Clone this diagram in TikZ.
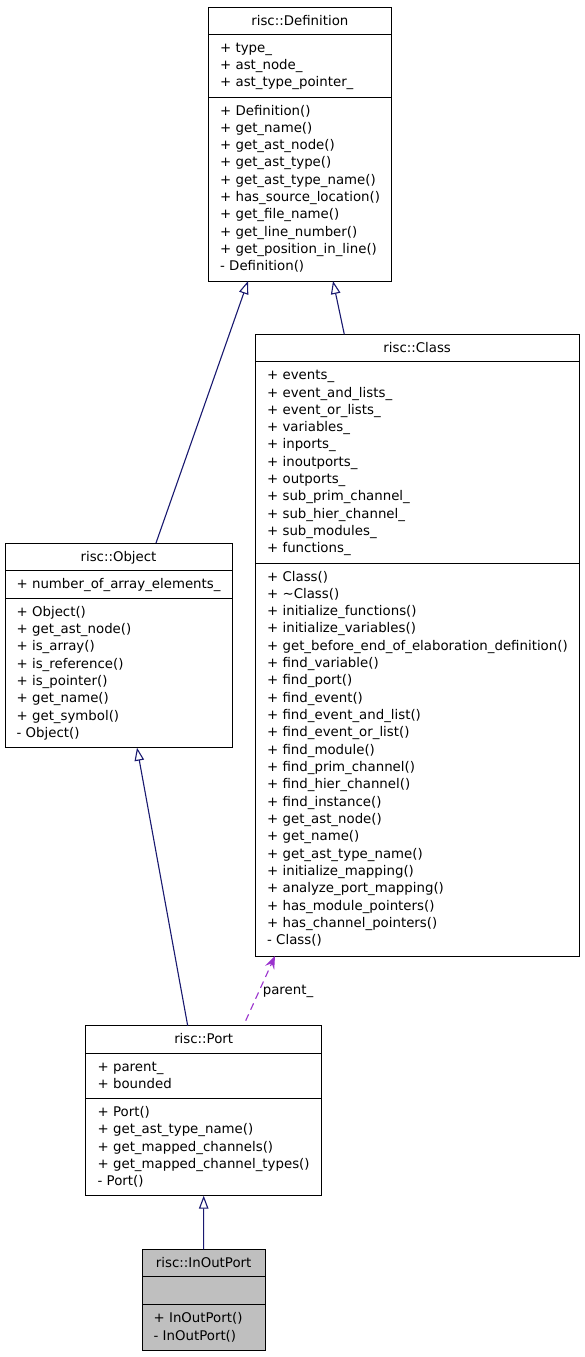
\documentclass[tikz,border=0pt]{standalone}
\usepackage{fontspec}
\setmainfont{DejaVu Sans}
\usetikzlibrary{arrows.meta}
\definecolor{inhcol}{HTML}{191970}
\definecolor{usecol}{HTML}{9A32CD}
\definecolor{iopfill}{HTML}{BFBFBF}
\begin{document}
\begin{tikzpicture}[x=1pt,y=-1pt,
  classbox/.style={draw=black,line width=1pt,fill=white,anchor=north west,inner sep=0pt,outer sep=0pt},
  sepline/.style={draw=black,line width=1pt},
  title/.style={anchor=base,inner sep=0pt,font=\fontsize{13.33pt}{17.33pt}\selectfont},
  member/.style={anchor=base west,inner sep=0pt,font=\fontsize{13.33pt}{17.33pt}\selectfont},
  inh/.style={draw=inhcol,line width=1.1pt,-{Triangle[open,length=13pt,width=9.5pt,fill=white]}},
  uses/.style={draw=usecol,line width=1.1pt,dashed,dash pattern=on 7pt off 5pt,-{Stealth[length=13pt,width=10pt,inset=5pt]}},
]
\useasboundingbox (0,0) rectangle (584,1357);
\fill[white] (0,0) rectangle (584,1357);

% ---------- risc::Definition ----------
\node[classbox,minimum width=183.7pt,minimum height=274pt] (def) at (208,7) {};
\draw[sepline] (208,34.33) -- (391.7,34.33);
\draw[sepline] (208,97) -- (391.7,97);
\node[title] (deft) at (299.85,25) {risc::Definition};
\foreach \t [count=\i] in {+ type\_, + ast\_node\_, + ast\_type\_pointer\_}
  \node[member] (defa\i) at (220,34.33+18+17.33*\i-17.33) {\t};
\foreach \t [count=\i] in {+ Definition(), + get\_name(), + get\_ast\_node(), + get\_ast\_type(), + get\_ast\_type\_name(), + has\_source\_location(), + get\_file\_name(), + get\_line\_number(), + get\_position\_in\_line(), - Definition()}
  \node[member] (defm\i) at (220,97+18+17.33*\i-17.33) {\t};

% ---------- risc::Class ----------
\node[classbox,minimum width=324.3pt,minimum height=621.67pt] (cls) at (255,334.33) {};
\draw[sepline] (255,361.67) -- (579.3,361.67);
\draw[sepline] (255,563) -- (579.3,563);
\node[title] (clst) at (417.15,352.33) {risc::Class};
\foreach \t [count=\i] in {+ events\_, + event\_and\_lists\_, + event\_or\_lists\_, + variables\_, + inports\_, + inoutports\_, + outports\_, + sub\_prim\_channel\_, + sub\_hier\_channel\_, + sub\_modules\_, + functions\_}
  \node[member] (clsa\i) at (267,361.67+18+17.33*\i-17.33) {\t};
\foreach \t [count=\i] in {+ Class(), + \char"007E Class(), + initialize\_functions(), + initialize\_variables(), + get\_before\_end\_of\_elaboration\_definition(), + find\_variable(), + find\_port(), + find\_event(), + find\_event\_and\_list(), + find\_event\_or\_list(), + find\_module(), + find\_prim\_channel(), + find\_hier\_channel(), + find\_instance(), + get\_ast\_node(), + get\_name(), + get\_ast\_type\_name(), + initialize\_mapping(), + analyze\_port\_mapping(), + has\_module\_pointers(), + has\_channel\_pointers(), - Class()}
  \node[member] (clsm\i) at (267,563+18+17.33*\i-17.33) {\t};

% ---------- risc::Object ----------
\node[classbox,minimum width=227pt,minimum height=204.67pt] (obj) at (5,543) {};
\draw[sepline] (5,570.33) -- (232,570.33);
\draw[sepline] (5,598.33) -- (232,598.33);
\node[title] (objt) at (118.5,561) {risc::Object};
\node[member] (obja1) at (16.5,588.33) {+ number\_of\_array\_elements\_};
\foreach \t [count=\i] in {+ Object(), + get\_ast\_node(), + is\_array(), + is\_reference(), + is\_pointer(), + get\_name(), + get\_symbol(), - Object()}
  \node[member] (objm\i) at (16.5,598.33+18+17.33*\i-17.33) {\t};

% ---------- risc::Port ----------
\node[classbox,minimum width=236pt,minimum height=170pt] (port) at (85.7,1025.67) {};
\draw[sepline] (85.7,1053) -- (321.7,1053);
\draw[sepline] (85.7,1098.33) -- (321.7,1098.33);
\node[title] (portt) at (203.7,1043.67) {risc::Port};
\foreach \t [count=\i] in {+ parent\_, + bounded}
  \node[member] (porta\i) at (97.5,1053+18+17.33*\i-17.33) {\t};
\foreach \t [count=\i] in {+ Port(), + get\_ast\_type\_name(), + get\_mapped\_channels(), + get\_mapped\_channel\_types(), - Port()}
  \node[member] (portm\i) at (97.5,1098.33+18+17.33*\i-17.33) {\t};

% ---------- risc::InOutPort ----------
\node[classbox,fill=iopfill,minimum width=122.7pt,minimum height=100.67pt] (iop) at (142.3,1249.33) {};
\draw[sepline] (142.3,1276.67) -- (265,1276.67);
\draw[sepline] (142.3,1304.67) -- (265,1304.67);
\node[title] (iopt) at (203.65,1267.33) {risc::InOutPort};
\foreach \t [count=\i] in {+ InOutPort(), - InOutPort()}
  \node[member] (iopm\i) at (153.5,1304.67+18+17.33*\i-17.33) {\t};

% ---------- connectors ----------
\draw[inh] ([xshift=37.5pt]obj.north) -- ([xshift=-51.85pt]def.south);
\draw[inh] ([xshift=-72.85pt]cls.north) -- ([xshift=33.15pt]def.south);
\draw[inh] ([xshift=-16pt]port.north) -- ([xshift=18.5pt]obj.south);
\draw[inh] (iop.north) -- (port.south);
\draw[uses] ([xshift=42pt,yshift=5pt]port.north) -- ([xshift=-142.15pt]cls.south);
\node[member,anchor=base] (parentlbl) at (288,994) {parent\_};
\end{tikzpicture}
\end{document}
